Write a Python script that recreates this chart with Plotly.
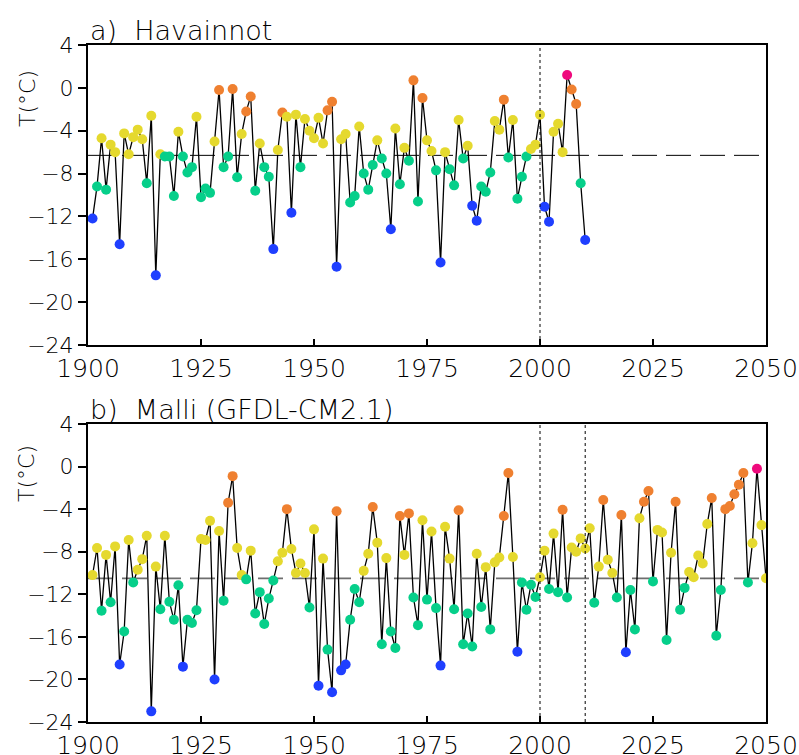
import plotly.graph_objects as go

# ---------------- data ----------------
years_a = list(range(1901, 2011))
temps_a = [
    -12.2, -9.2, -4.7, -9.5, -5.3, -6.0, -14.6, -4.25, -6.2, -4.6,      # 1901-1910
    -3.9, -4.8, -8.9, -2.6, -17.5, -6.2, -6.4, -6.4, -10.1, -4.1,        # 1911-1920
    -6.4, -7.9, -7.4, -2.7, -10.2, -9.4, -9.8, -5.0, -0.2, -7.4,         # 1921-1930
    -6.4, -0.1, -8.35, -4.3, -2.2, -0.8, -9.6, -5.2, -7.4, -8.3,         # 1931-1940
    -15.05, -5.8, -2.3, -2.7, -11.65, -2.5, -7.4, -2.9, -4.0, -4.7,      # 1941-1950
    -2.8, -5.2, -2.1, -1.3, -16.7, -4.8, -4.3, -10.7, -10.1, -3.6,       # 1951-1960
    -8.0, -9.5, -7.2, -4.9, -6.6, -8.0, -13.2, -3.8, -9.0, -5.6,         # 1961-1970
    -6.8, 0.7, -10.6, -0.95, -4.9, -5.9, -7.7, -16.3, -6.0, -7.6,        # 1971-1980
    -9.1, -3.0, -6.6, -5.4, -11.0, -12.4, -9.2, -9.7, -7.9, -3.1,        # 1981-1990
    -3.9, -1.1, -6.5, -3.0, -10.35, -8.3, -6.4, -5.7, -5.3, -2.5,        # 1991-2000
    -11.1, -12.5, -4.1, -3.35, -6.0, 1.2, -0.15, -1.5, -8.9, -14.2,      # 2001-2010
]

years_b = list(range(1901, 2051))
temps_b = [
    -10.2, -7.65, -13.55, -8.3, -12.75, -7.5, -18.6, -15.5, -6.9, -10.9,   # 1901-1910
    -9.7, -8.7, -6.5, -23.0, -9.4, -13.4, -6.5, -12.7, -14.4, -11.15,      # 1911-1920
    -18.8, -14.4, -14.7, -13.5, -6.8, -6.9, -5.1, -20.0, -6.05, -12.6,     # 1921-1930
    -3.4, -0.9, -7.65, -10.2, -10.6, -7.9, -13.8, -11.8, -14.8, -12.4,     # 1931-1940
    -10.7, -8.9, -8.1, -4.0, -7.75, -10.0, -9.1, -10.0, -13.25, -5.9,      # 1941-1950
    -20.6, -8.65, -17.2, -21.2, -4.2, -19.15, -18.6, -14.4, -11.5, -12.75, # 1951-1960
    -9.8, -8.2, -3.8, -7.15, -16.7, -8.6, -15.5, -17.05, -4.65, -8.3,      # 1961-1970
    -4.4, -12.3, -14.9, -5.05, -12.5, -6.1, -13.3, -18.7, -5.65, -8.65,    # 1971-1980
    -13.4, -4.1, -16.7, -13.8, -16.9, -8.2, -13.2, -9.45, -15.3, -9.0,     # 1981-1990
    -8.55, -4.65, -0.6, -8.5, -17.4, -10.9, -13.45, -11.1, -12.25, -10.4,  # 1991-2000
    -7.9, -11.5, -6.3, -11.8, -4.05, -12.3, -7.6, -8.0, -6.75, -7.7,       # 2001-2010
    -5.8, -12.8, -9.4, -3.15, -8.75, -10.0, -12.3, -4.55, -17.45, -11.6,   # 2011-2020
    -15.3, -4.85, -3.3, -2.3, -10.8, -5.95, -6.2, -16.3, -8.1, -3.3,       # 2021-2030
    -13.45, -11.4, -9.9, -10.4, -8.35, -9.1, -5.4, -2.95, -15.9, -11.6,    # 2031-2040
    -4.0, -3.7, -2.6, -1.7, -0.6, -10.9, -7.2, -0.2, -5.5, -10.5,          # 2041-2050
]

mean_a = -6.3
mean_b = -10.5
# class limits (blue | green | yellow | orange | magenta)
limits_a = [-10.8, -6.3, -2.4, 1.0]
limits_b = [-17.3, -10.55, -4.75, -0.4]

vlines_a = [2000]
vlines_b = [2000, 2010]

x_ticks = [1900, 1925, 1950, 1975, 2000, 2025, 2050]
y_ticks = [4, 0, -4, -8, -12, -16, -20, -24]

title_a = "a)  Havainnot"
title_b = "b)  Malli (GFDL-CM2.1)"
ylabel = "T(°C)"

# ---------------- styling ----------------
class_colors = ["#1f3fff", "#06cf8a", "#e5d92e", "#ef8030", "#ef0a7d"]
FONT = "DejaVu Sans"
WEIGHT = 200


def classify(values, limits):
    out = []
    for v in values:
        k = 0
        for lim in limits:
            if v >= lim:
                k += 1
        out.append(class_colors[k])
    return out


fig = go.Figure()

panels = [
    ("x", "y", years_a, temps_a, mean_a, limits_a, "#000000", 1.0),
    ("x2", "y2", years_b, temps_b, mean_b, limits_b, "#6e6e6e", 1.8),
]
for xa, ya, yrs, vals, mn, lims, mcol, mw in panels:
    fig.add_trace(go.Scatter(
        x=[x_ticks[0], x_ticks[-1]], y=[mn, mn], mode="lines",
        line=dict(color=mcol, width=mw, dash="25px,9px"),
        xaxis=xa, yaxis=ya, hoverinfo="skip", showlegend=False))
    fig.add_trace(go.Scatter(
        x=yrs, y=vals, mode="lines+markers",
        line=dict(color="#000000", width=1.3),
        marker=dict(size=10, color=classify(vals, lims), line=dict(width=0)),
        xaxis=xa, yaxis=ya, showlegend=False))

shapes = []
for xref, yref, lines in [("x", "y domain", vlines_a), ("x2", "y2 domain", vlines_b)]:
    for v in lines:
        shapes.append(dict(type="line", xref=xref, yref=yref, x0=v, x1=v, y0=0, y1=1,
                           line=dict(color="#000000", width=1, dash="3px,3px"), layer="above"))

axis_common = dict(range=[x_ticks[0], x_ticks[-1]], tickvals=x_ticks, ticks="inside", ticklen=6,
                   tickwidth=1.5, tickcolor="#000", showline=True, linecolor="#000", linewidth=2,
                   mirror=True, showgrid=False, zeroline=False, automargin=False,
                   tickfont=dict(family=FONT, size=25, color="#000", weight=WEIGHT))
yaxis_common = dict(range=[y_ticks[-1], y_ticks[0]], tickvals=y_ticks, ticks="outside", ticklen=8,
                    tickwidth=1.5, tickcolor="#000", showline=True, linecolor="#000", linewidth=2,
                    mirror=True, showgrid=False, zeroline=False, automargin=False,
                    tickfont=dict(family=FONT, size=22, color="#000", weight=WEIGHT))

annotations = []
for txt, ypos in [(title_a, 1.0), (title_b, 0.4402)]:
    annotations.append(dict(text=txt, xref="paper", yref="paper", x=0.0, y=ypos,
                            xanchor="left", yanchor="bottom", showarrow=False, yshift=-3,
                            font=dict(family=FONT, size=27, color="#000", weight=WEIGHT)))
for ypos in [0.9217, 0.3678]:
    annotations.append(dict(text=ylabel, xref="paper", yref="paper", x=-0.09, y=ypos,
                            xanchor="center", yanchor="middle", textangle=-90, showarrow=False,
                            font=dict(family=FONT, size=22, color="#000", weight=WEIGHT)))

fig.update_layout(
    width=799, height=755,
    margin=dict(l=88, r=33, t=45, b=33, autoexpand=False),
    paper_bgcolor="white", plot_bgcolor="white",
    xaxis=dict(domain=[0, 1], anchor="y", **axis_common),
    yaxis=dict(domain=[0.5569, 1], anchor="x", **yaxis_common),
    xaxis2=dict(domain=[0, 1], anchor="y2", **axis_common),
    yaxis2=dict(domain=[0, 0.4402], anchor="x2", **yaxis_common),
    shapes=shapes, annotations=annotations,
)

fig.write_html("out.html", config={"displayModeBar": False},
               post_script="document.body.style.margin='0';document.body.style.overflow='hidden';")
